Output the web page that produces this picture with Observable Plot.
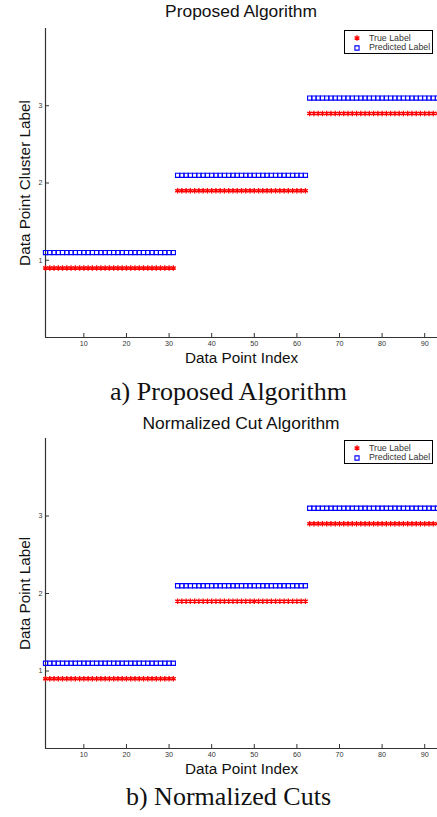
<!DOCTYPE html>
<html>
<head>
<meta charset="utf-8">
<script src="https://cdn.jsdelivr.net/npm/d3@7"></script>
<script src="https://cdn.jsdelivr.net/npm/@observablehq/plot@0.6"></script>
<style>
  html, body { margin: 0; padding: 0; background: #fff; }
  body { width: 437px; height: 817px; position: relative; overflow: hidden; font-family: "Liberation Sans", Arial, sans-serif; }
  .abs { position: absolute; }
  .title { left: 45px; width: 392px; text-align: center; font-size: 17.4px; line-height: 1; color: #111; white-space: nowrap; }
  .caption { left: 10px; width: 437px; text-align: center; font-family: "Liberation Serif", "Times New Roman", serif; font-size: 26px; line-height: 1; color: #111; white-space: nowrap; }
  .legend { box-sizing: border-box; width: 89px; height: 24px; border: 1px solid #000; background: #fff; }
  .legend .row { position: absolute; left: 0; font-size: 8.8px; line-height: 1; color: #333; white-space: nowrap; }
  .legend svg { position: absolute; overflow: visible; }
  svg { overflow: visible; }
</style>
</head>
<body>
<div id="root"></div>
<script>
// ---- data ----
const pointIndex = [1,2,3,4,5,6,7,8,9,10,11,12,13,14,15,16,17,18,19,20,21,22,23,24,25,26,27,28,29,30,31,
  32,33,34,35,36,37,38,39,40,41,42,43,44,45,46,47,48,49,50,51,52,53,54,55,56,57,58,59,60,61,62,
  63,64,65,66,67,68,69,70,71,72,73,74,75,76,77,78,79,80,81,82,83,84,85,86,87,88,89,90,91,92,93];
const trueLabelA = [1,1,1,1,1,1,1,1,1,1,1,1,1,1,1,1,1,1,1,1,1,1,1,1,1,1,1,1,1,1,1,
  2,2,2,2,2,2,2,2,2,2,2,2,2,2,2,2,2,2,2,2,2,2,2,2,2,2,2,2,2,2,2,
  3,3,3,3,3,3,3,3,3,3,3,3,3,3,3,3,3,3,3,3,3,3,3,3,3,3,3,3,3,3,3];
const predictedLabelA = [1,1,1,1,1,1,1,1,1,1,1,1,1,1,1,1,1,1,1,1,1,1,1,1,1,1,1,1,1,1,1,
  2,2,2,2,2,2,2,2,2,2,2,2,2,2,2,2,2,2,2,2,2,2,2,2,2,2,2,2,2,2,2,
  3,3,3,3,3,3,3,3,3,3,3,3,3,3,3,3,3,3,3,3,3,3,3,3,3,3,3,3,3,3,3];
const trueLabelB = [1,1,1,1,1,1,1,1,1,1,1,1,1,1,1,1,1,1,1,1,1,1,1,1,1,1,1,1,1,1,1,
  2,2,2,2,2,2,2,2,2,2,2,2,2,2,2,2,2,2,2,2,2,2,2,2,2,2,2,2,2,2,2,
  3,3,3,3,3,3,3,3,3,3,3,3,3,3,3,3,3,3,3,3,3,3,3,3,3,3,3,3,3,3,3];
const predictedLabelB = [1,1,1,1,1,1,1,1,1,1,1,1,1,1,1,1,1,1,1,1,1,1,1,1,1,1,1,1,1,1,1,
  2,2,2,2,2,2,2,2,2,2,2,2,2,2,2,2,2,2,2,2,2,2,2,2,2,2,2,2,2,2,2,
  3,3,3,3,3,3,3,3,3,3,3,3,3,3,3,3,3,3,3,3,3,3,3,3,3,3,3,3,3,3,3];
const xTicks = [10,20,30,40,50,60,70,80,90];
const yTicks = [1,2,3];
const xDomain = [1,93];
const yDomain = [0,4];
const titleA = "Proposed Algorithm";
const titleB = "Normalized Cut Algorithm";
const yLabelA = "Data Point Cluster Label";
const yLabelB = "Data Point Label";
const xLabel = "Data Point Index";
const captionA = "a) Proposed Algorithm";
const captionB = "b) Normalized Cuts";
const legendLabels = ["True Label", "Predicted Label"];
const labelOffset = 0.1; // markers drawn just below (true) / above (predicted) their label

const root = document.getElementById("root");

function panel(trueL, predL, yLabel, height) {
  const rows = pointIndex.map((x, i) => ({x, t: trueL[i], p: predL[i]}));
  return Plot.plot({
    width: 437,
    height,
    marginTop: 28,
    marginBottom: 28,
    marginLeft: 45,
    marginRight: 0,
    style: {fontFamily: "'Liberation Sans', Arial, sans-serif", background: "transparent", overflow: "visible", color: "#333"},
    x: {domain: xDomain},
    y: {domain: yDomain},
    marks: [
      Plot.axisX({ticks: xTicks, tickFormat: d => String(d), tickSize: -4, tickPadding: 7, fontSize: 7.2, label: null, stroke: "#333", fill: "#333"}),
      Plot.axisY({ticks: yTicks, tickFormat: d => String(d), tickSize: -4, tickPadding: 7, fontSize: 7.2, label: null, stroke: "#333", fill: "#333"}),
      Plot.ruleX([xDomain[0]], {stroke: "#333", strokeWidth: 1.2}),
      Plot.ruleY([yDomain[0]], {stroke: "#333", strokeWidth: 1.2}),
      Plot.dot(rows, {x: "x", y: d => d.p + labelOffset, symbol: "square", r: 2.35, stroke: "#0000ff", strokeWidth: 1.1}),
      Plot.dot(rows, {x: "x", y: d => d.t - labelOffset, symbol: "asterisk", r: 2.6, stroke: "#ff0000", strokeWidth: 1.3}),
      Plot.text([yLabel], {text: d => d, frameAnchor: "left", textAnchor: "middle", rotate: -90, dx: -20, fontSize: 15.3, fill: "#111", lineAnchor: "middle"}),
      Plot.text([xLabel], {text: d => d, frameAnchor: "bottom", textAnchor: "middle", dy: 21, fontSize: 15.3, fill: "#111", lineAnchor: "middle"})
    ]
  });
}

function addAbs(el, left, top) {
  el.classList.add("abs");
  el.style.left = left + "px";
  el.style.top = top + "px";
  root.appendChild(el);
  return el;
}

function textDiv(cls, text, top) {
  const d = document.createElement("div");
  d.className = cls + " abs";
  d.textContent = text;
  d.style.top = top + "px";
  root.appendChild(d);
  return d;
}

function legend(top) {
  const box = document.createElement("div");
  box.className = "legend";
  addAbs(box, 344, top);
  const symbols = [d3.symbolAsterisk, d3.symbolSquare];
  const colors = ["#ff0000", "#0000ff"];
  const rowsY = [8.3, 17.7];
  legendLabels.forEach((lab, i) => {
    const s = d3.create("svg").attr("width", 1).attr("height", 1)
      .style("left", "12px").style("top", (rowsY[i] - 1) + "px");
    const r = i === 0 ? 2.6 : 2.35;
    s.append("path")
      .attr("d", d3.symbol(symbols[i], Math.PI * r * r)())
      .attr("fill", "none").attr("stroke", colors[i]).attr("stroke-width", i === 0 ? 1.3 : 1.1);
    box.appendChild(s.node());
    const t = document.createElement("div");
    t.className = "row";
    t.textContent = lab;
    t.style.left = "24px";
    t.style.top = (rowsY[i] - 1 - 4.6) + "px";
    box.appendChild(t);
  });
}

// panel a
const svgA = panel(trueLabelA, predictedLabelA, yLabelA, 365);
addAbs(svgA, 0, 0);
textDiv("title", titleA, 2.5);
legend(30);
textDiv("caption", captionA, 379);

// panel b
const svgB = panel(trueLabelB, predictedLabelB, yLabelB, 366);
addAbs(svgB, 0, 410);
textDiv("title", titleB, 414.5);
legend(440);
textDiv("caption", captionB, 784);
</script>
</body>
</html>
